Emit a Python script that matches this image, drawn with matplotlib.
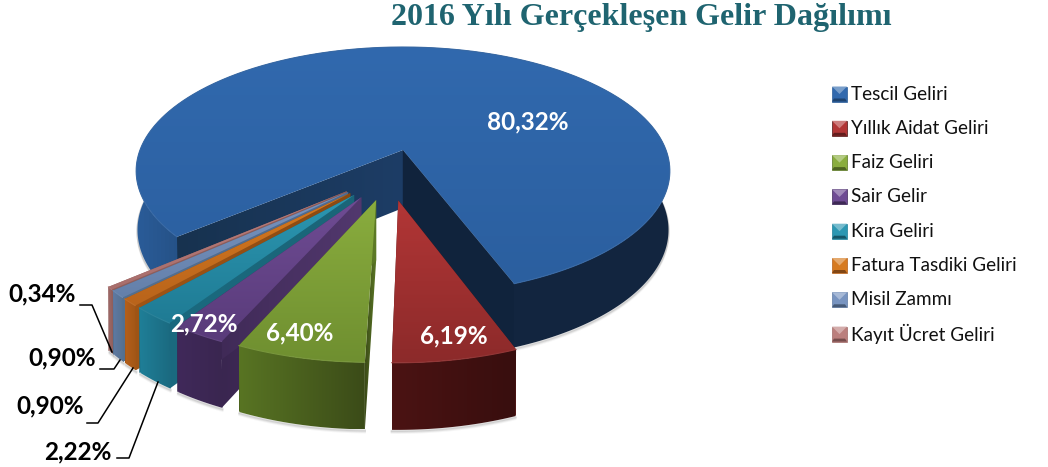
import numpy as np
import matplotlib
matplotlib.use("Agg")
import matplotlib.pyplot as plt
from matplotlib.patches import Polygon
from matplotlib.colors import to_rgb

names = ['Tescil Geliri', 'Yıllık Aidat Geliri', 'Faiz Geliri', 'Sair Gelir',
         'Kira Geliri', 'Fatura Tasdiki Geliri', 'Misil Zammı', 'Kayıt Ücret Geliri']
values = [80.32, 6.19, 6.40, 2.72, 2.22, 0.90, 0.90, 0.34]
title = '2016 Yılı Gerçekleşen Gelir Dağılımı'

top_a = ['#3169ae', '#b23636', '#8aad3e', '#6f4c94', '#2c97b2', '#d67a20', '#7894c0', '#bb7f7d']
top_b = ['#2b5f9f', '#8c2a2a', '#6f8f30', '#593b7a', '#1f7b94', '#b9641b', '#6480aa', '#a86e6c']
side_l = ['#2a5c98', '#4b1313', '#587423', '#40295a', '#1f7f98', '#b5601a', '#5f7aa3', '#a06a68']
side_r = ['#12253f', '#380e0e', '#3b4b18', '#3a2650', '#1b6a80', '#a05516', '#54708f', '#905f5d']
wall = ['#10233c', '#6e1f1f', '#5d7a26', '#52386e', '#1a6578', '#8a4a12', '#4f6a90', '#8a5a58']

# view of the disc, blue apex is the origin
x0, y0 = 403, 150
b, a, k = 263, 120.4, 0.169
thick = 58
explode = 0.2
start = -50
slice_radius = 0.97
slice_turn = 0.5


def project(u, v):
    w = 1 - k * v
    return x0 + b * u / w, y0 + a * v / w


def drop(v):
    return thick / (1 - 0.1 * v)


def mix(c1, c2, t):
    return tuple(np.array(to_rgb(c1)) * (1 - t) + np.array(to_rgb(c2)) * t)


def gradient(ax, poly, c1, c2, zorder, axis='y', reach=1.0):
    # colour ramp clipped to a polygon
    xs, ys = poly[:, 0], poly[:, 1]
    g = np.clip(np.linspace(0, 1, 128) / reach, 0, 1)
    ramp = np.array([mix(c1, c2, t) for t in g])
    img = ramp[:, None, :] if axis == 'y' else ramp[None, :, :]
    im = ax.imshow(img, extent=[xs.min(), xs.max(), ys.max(), ys.min()], aspect='auto', zorder=zorder)
    im.set_clip_path(Polygon(poly, transform=ax.transData))


fig = plt.figure(figsize=(10.48, 4.67), dpi=100)
ax = fig.add_axes([0, 0, 1, 1])

share = np.array(values) / sum(values) * 360
ends = start - np.cumsum(share)
starts = ends + share
mids = (starts + ends) / 2
blue_mid = np.radians(mids[0])
cu, cv = -explode * np.sin(blue_mid), -explode * np.cos(blue_mid)

# back to front: blue, then the smallest slices up to red
order = [0, 7, 6, 5, 4, 3, 2, 1]
z = 1
for i in order:
    m = np.radians(mids[i])
    au = cu + explode * np.sin(m)
    av = cv + explode * np.cos(m)
    r = 1 if i == 0 else slice_radius
    turn = 0 if i == 0 else slice_turn
    th = np.radians(np.linspace(starts[i] + turn, ends[i] + turn, max(int(share[i] * 2), 6)))
    ru = au + r * np.sin(th)
    rv = av + r * np.cos(th)
    rx, ry = project(ru, rv)
    ax0, ay0 = project(au, av)
    ad = drop(av)
    low_x = ax0 + (rx - ax0) * 0.995
    low_y = ry + drop(rv)

    # soft shadow under the lower rim
    for off, alpha in zip((1, 2, 3), (0.22, 0.14, 0.07)):
        ax.plot(low_x, low_y + off, color='#777777', alpha=alpha, lw=1.5, zorder=z)
    z += 1

    # cut walls
    for j in (0, -1):
        d = drop(rv[j])
        p = np.array([[ax0, ay0], [rx[j], ry[j]], [rx[j], ry[j] + d], [ax0, ay0 + ad]])
        if i == 0 and j == 0:
            gradient(ax, p, '#17324f', '#1d3d66', z, axis='x')
        elif i == 0:
            ax.add_patch(Polygon(p, closed=True, fc=wall[i], ec=wall[i], lw=0.3, zorder=z))
        else:
            gradient(ax, p, side_r[i], wall[i], z, axis='x')
    z += 1

    # outer side, the lower rim draws in a little
    side = np.column_stack([np.r_[rx, low_x[::-1]], np.r_[ry, low_y[::-1]]])
    gradient(ax, side, side_l[i], side_r[i], z, axis='x', reach=0.4 if i == 0 else 1.0)
    z += 1

    # top face
    poly = np.column_stack([np.r_[ax0, rx], np.r_[ay0, ry]])
    gradient(ax, poly, top_a[i], top_b[i], z)
    z += 1
    ax.plot(rx, ry, color=mix(top_b[i], '#ffffff', 0.06), lw=0.8, zorder=z, solid_capstyle='round')
    z += 1

ax.set_xlim(0, 1048)
ax.set_ylim(467, 0)
ax.axis('off')

labels = [f'{v:.2f}%'.replace('.', ',') for v in values]
lab_x = [528, 454, 300, 204, 78, 50, 62, 42]
lab_y = [122, 336, 333, 324, 452, 406, 358, 294]
lab_col = ['white', 'white', 'white', 'white', 'black', 'black', 'black', 'black']
for t, x, y, c in zip(labels, lab_x, lab_y, lab_col):
    ax.text(x, y, t, ha='center', va='center', fontsize=17.5, fontweight='bold',
            family='Lato', color=c, zorder=200)

# leader lines of the small slices
lead_x = [[117, 129, 158], [87, 98, 133], [100, 114, 120], [80, 92, 112]]
lead_y = [[458, 458, 382], [423, 423, 368], [369, 369, 360], [305, 305, 352]]
for lx, ly in zip(lead_x, lead_y):
    ax.plot(lx, ly, color='black', lw=1.1, zorder=200)

ax.text(641, 18, title, ha='center', va='center', fontsize=23, fontweight='bold',
        family='Liberation Serif', color='#1f6470')

# legend with small bevelled keys
for i, name in enumerate(names):
    y = 94 + i * 34.3
    x1, x2 = 832, 847
    y1, y2 = y - 7.5, y + 7.5
    mx, my = (x1 + x2) / 2, (y1 + y2) / 2
    ax.add_patch(Polygon([[x1, y1], [x2, y1], [x2, y2], [x1, y2]], fc=top_a[i], ec=side_l[i], lw=0.5, zorder=10))
    ax.add_patch(Polygon([[x1, y1], [x2, y1], [mx, my]], fc=mix(top_a[i], '#ffffff', 0.35), lw=0, zorder=11))
    ax.add_patch(Polygon([[x1, y2], [x2, y2], [x2 - 2, y2 - 3], [x1 + 2, y2 - 3]],
                         fc=mix(top_b[i], '#000000', 0.3), lw=0, zorder=11))
    ax.text(851, y, name, ha='left', va='center', fontsize=13.6, family='Lato', color='#111111')

fig.savefig('out.png', dpi=100)
